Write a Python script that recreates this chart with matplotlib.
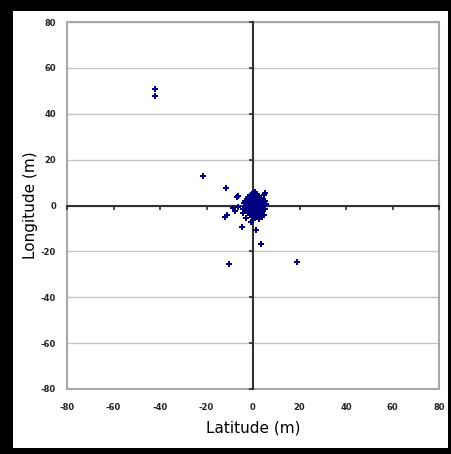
import matplotlib
matplotlib.use("Agg")
import matplotlib.pyplot as plt
from matplotlib.patches import Rectangle

plt.rcParams["axes.unicode_minus"] = False
plt.rcParams["font.family"] = ["DejaVu Sans"]

# Position errors (m): latitude / longitude offsets of the fixes
latitude = [
    -42.0, -42.0, -21.4, -11.6, -7.0, -6.3, -12.2, -11.0, -8.7, -7.6,
    -4.9, -10.2, 18.8, 3.4, 1.4, 5.3, 4.9, -0.8, -3.1, 3.9,
    4.7, 2.4, -3.4, -6.6, -4.2,
    0, 1, 2, 3, -1, -2, -3, 4,
    0, 1, 2, 3, -1, -2, -3, 4.5,
    0, 1, 2, 3, -1, -2, -3.5,
    0, 1, 2.2, -1, -2,
    0.3, 1.2, -0.5, 2,
    0.5, 1, 0,
    0, 1, 2, 3, -1, -2, -3, 4,
    0, 1, 2, 3, -1, -2, 4,
    0, 1, 2, -1, -2, 3,
    0.5, -0.5, 1.5, 2.5, -1.5,
    0, 1,
    5.5, 5.0, -4.0, -4.2, 5.2,
    0.5, 1.5, 2.5, 3.5, -0.5, -1.5, -2.5, 4.5,
    0.5, 1.5, 2.5, 3.5, -0.5, -1.5, -2.5, 4.2,
    0.5, 1.5, 2.5, -0.5, -1.5, -2.5, 3.5,
    0.5, 1.5, 2.5, -0.5, -1.5, 3.2,
    0.5, 1.5, -0.5, 2.5, -1.2,
    0.5, 1.5, 2.5, 3.5, -0.5, -1.5, -2.5, 4.5,
    0.5, 1.5, 2.5, 3.5, -0.5, -1.5, -2.5, 4.2,
    0.5, 1.5, 2.5, -0.5, -1.5, -2.5, 3.5,
    0.5, 1.5, -0.5, 2.0, -1.0,
]
longitude = [
    50.8, 47.9, 13.0, 7.5, 3.6, 4.1, -5.0, -4.3, -1.3, -2.4,
    -9.2, -25.5, -24.6, -16.9, -10.6, 5.3, 4.7, -7.3, -5.6, -4.9,
    -4.2, -5.9, -0.5, -0.5, -3.4,
    0, 0, 0, 0, 0, 0, 0, 0.5,
    1, 1, 1, 1.2, 1, 1.3, 1.5, 1,
    2, 2.2, 2, 2.5, 2, 2.5, 2,
    3, 3.3, 3, 3.2, 3.5,
    4, 4.5, 4.2, 4,
    5, 5.8, 5.5,
    -1, -1, -1, -1, -1, -1.2, -0.8, -0.8,
    -2, -2.2, -2, -2.5, -2, -2.3, -2,
    -3, -3.2, -3, -3.3, -3, -3.5,
    -4, -4.5, -4.2, -4.5, -4,
    -5, -5.3,
    0.5, -1.5, 1.0, -1.5, 1.8,
    0.5, 0.5, 0.5, 0.5, 0.5, 0.5, 0.5, -0.2,
    1.5, 1.5, 1.5, 1.5, 1.5, 1.5, 1.5, 2.0,
    2.5, 2.5, 2.5, 2.5, 2.5, 2.5, 2.8,
    3.5, 3.5, 3.5, 3.5, 3.5, 3.2,
    4.5, 4.5, 4.8, 4.2, 4.0,
    -0.5, -0.5, -0.5, -0.5, -0.5, -0.5, -0.5, -0.3,
    -1.5, -1.5, -1.5, -1.5, -1.5, -1.5, -1.8, -1.2,
    -2.5, -2.5, -2.5, -2.5, -2.5, -2.2, -2.8,
    -3.5, -3.5, -3.8, -3.8, -3.8,
]

ticks = [-80, -60, -40, -20, 0, 20, 40, 60, 80]

fig = plt.figure(figsize=(4.51, 4.54), dpi=100)
fig.patch.set_facecolor("black")

# White page inside the black border
page = fig.add_axes([0, 0, 1, 1], zorder=-10)
page.set_axis_off()
page.add_patch(Rectangle((13 / 451, 6 / 454), 435 / 451, 437 / 454,
                         transform=page.transAxes, facecolor="white",
                         edgecolor="none"))

rect = [67 / 451, 1 - 389 / 454, 372 / 451, 367 / 454]

# Frame axes: grey border, gridlines and tick labels at the edges
frame = fig.add_axes(rect)
frame.set_xlim(-80, 80)
frame.set_ylim(-80, 80)
frame.set_xticks(ticks)
frame.set_yticks(ticks)
frame.set_xticklabels([str(t) for t in ticks], fontsize=6, fontweight="bold")
frame.set_yticklabels([str(t) for t in ticks], fontsize=6, fontweight="bold")
frame.tick_params(length=0, pad=10, colors="#222222")
frame.tick_params(axis="y", pad=8)
frame.grid(axis="y", color="#c4c4c4", linewidth=1.0)
frame.set_axisbelow(True)
for s in frame.spines.values():
    s.set_color("#a8a8a8")
    s.set_linewidth(1.5)
frame.set_xlabel("Latitude (m)", fontsize=11, labelpad=6)
frame.set_ylabel("Longitude (m)", fontsize=11, labelpad=2)

# Crossing axes through the origin, carrying the tick marks
cross = fig.add_axes(rect, facecolor="none")
cross.set_xlim(-80, 80)
cross.set_ylim(-80, 80)
cross.spines["left"].set_position(("data", 0))
cross.spines["bottom"].set_position(("data", 0))
cross.spines["right"].set_visible(False)
cross.spines["top"].set_visible(False)
for s in ("left", "bottom"):
    cross.spines[s].set_color("#303030")
    cross.spines[s].set_linewidth(1.5)
cross.set_xticks(ticks)
cross.set_yticks(ticks)
cross.tick_params(direction="out", length=3, width=1.2, colors="#303030",
                  labelbottom=False, labelleft=False)

cross.plot(latitude, longitude, linestyle="none", marker="P",
           markersize=4.5, color="#000080", markeredgewidth=0, zorder=5,
           clip_on=False)

fig.savefig("out.png", dpi=100, facecolor=fig.get_facecolor())
